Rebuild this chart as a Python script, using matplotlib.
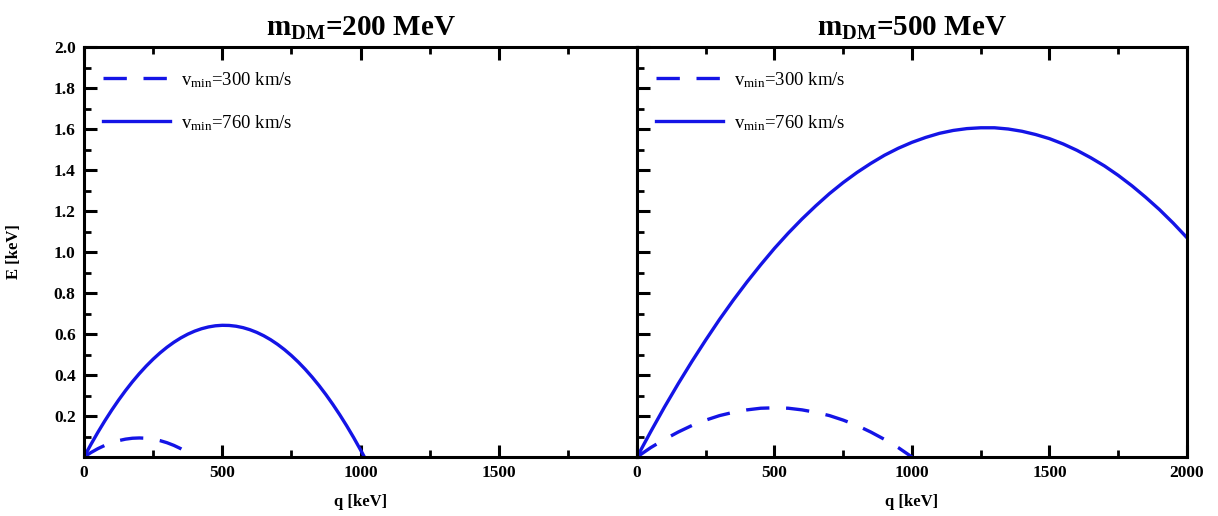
import matplotlib
matplotlib.use("Agg")
import matplotlib.pyplot as plt
from matplotlib.ticker import MultipleLocator, FixedLocator

plt.rcParams['font.family'] = ['Liberation Serif', 'DejaVu Serif']
plt.rcParams['mathtext.fontset'] = 'custom'
plt.rcParams['mathtext.rm'] = 'Liberation Serif'
plt.rcParams['mathtext.it'] = 'Liberation Serif:italic'
plt.rcParams['mathtext.bf'] = 'Liberation Serif:bold'

# ---- data ----
titles = ["m$_{\\mathbf{DM}}$=200 MeV", "m$_{\\mathbf{DM}}$=500 MeV"]
labels = ["v$_{\\rm min}$=300 km/s", "v$_{\\rm min}$=760 km/s"]

# m_DM = 200 MeV
q200_slow = [0, 25, 50, 75, 100, 125, 150, 175, 200, 225, 250, 275, 300,
             325, 350, 375, 400]
E200_slow = [0, 0.0218, 0.0407, 0.0567, 0.0698, 0.0799, 0.0872, 0.0916,
             0.093, 0.0916, 0.0872, 0.0799, 0.0698, 0.0567, 0.0407, 0.0218,
             0.0]
q200_fast = [0, 25, 50, 75, 100, 125, 150, 175, 200, 225, 250, 275, 300,
             325, 350, 375, 400, 425, 450, 475, 500, 525, 550, 575, 600,
             625, 650, 675, 700, 725, 750, 775, 800, 825, 850, 875, 900,
             925, 950, 975, 1000, 1014]
E200_fast = [0, 0.0618, 0.1205, 0.1761, 0.2285, 0.2778, 0.3240, 0.3671,
             0.4070, 0.4438, 0.4775, 0.5081, 0.5355, 0.5598, 0.5810, 0.5991,
             0.6140, 0.6258, 0.6345, 0.6401, 0.6425, 0.6418, 0.6380, 0.6311,
             0.6210, 0.6078, 0.5915, 0.5721, 0.5495, 0.5238, 0.4950, 0.4631,
             0.4280, 0.3898, 0.3485, 0.3041, 0.2565, 0.2058, 0.1520, 0.0951,
             0.0350, 0.0]

# m_DM = 500 MeV
q500_slow = [0, 50, 100, 150, 200, 250, 300, 350, 400, 450, 500, 550, 600,
             650, 700, 750, 800, 850, 900, 950, 1000]
E500_slow = [0, 0.046, 0.086, 0.122, 0.154, 0.18, 0.202, 0.218, 0.23, 0.238,
             0.24, 0.238, 0.23, 0.218, 0.202, 0.18, 0.154, 0.122, 0.086,
             0.046, 0.0]
q500_fast = [0, 50, 100, 150, 200, 250, 300, 350, 400, 450, 500, 550, 600,
             650, 700, 750, 800, 850, 900, 950, 1000, 1050, 1100, 1150,
             1200, 1250, 1300, 1350, 1400, 1450, 1500, 1550, 1600, 1650,
             1700, 1750, 1800, 1850, 1900, 1950, 2000]
E500_fast = [0, 0.124, 0.244, 0.358, 0.467, 0.571, 0.671, 0.765, 0.854,
             0.938, 1.018, 1.092, 1.161, 1.225, 1.285, 1.339, 1.388, 1.432,
             1.472, 1.506, 1.535, 1.559, 1.579, 1.593, 1.602, 1.606, 1.606,
             1.600, 1.589, 1.573, 1.553, 1.527, 1.496, 1.460, 1.420, 1.374,
             1.323, 1.267, 1.207, 1.141, 1.07]

xticks_left = [0, 500, 1000, 1500]
xticks_right = [0, 500, 1000, 1500, 2000]
yticks = [0.2, 0.4, 0.6, 0.8, 1.0, 1.2, 1.4, 1.6, 1.8, 2.0]

color = '#1414e6'

fig = plt.figure(figsize=(12.18, 5.16), dpi=100)
axL = fig.add_axes([0.069, 0.1143, 0.454, 0.7946])
axR = fig.add_axes([0.523, 0.1143, 0.4515, 0.7946])

datasets = [
    (axL, q200_slow, E200_slow, q200_fast, E200_fast, xticks_left, titles[0]),
    (axR, q500_slow, E500_slow, q500_fast, E500_fast, xticks_right, titles[1]),
]

for i, (ax, qs, Es, qf, Ef, xt, title) in enumerate(datasets):
    ax.plot(qs, Es, color=color, lw=2.4, ls=(0, (7, 5)), label=labels[0])
    ax.plot(qf, Ef, color=color, lw=2.4, label=labels[1])
    ax.set_xlim(0, 2000)
    ax.set_ylim(0, 2.0)
    for s in ax.spines.values():
        s.set_linewidth(2.2)
    ax.xaxis.set_major_locator(FixedLocator(xt))
    ax.xaxis.set_minor_locator(MultipleLocator(250))
    ax.yaxis.set_major_locator(FixedLocator(yticks))
    ax.yaxis.set_minor_locator(MultipleLocator(0.1))
    ax.tick_params(which='major', direction='in', length=9, width=2.2,
                   top=True, right=False, labelsize=12.5, pad=6)
    ax.tick_params(which='minor', direction='in', length=5, width=2.0,
                   top=True, right=False)
    if i == 0:
        ax.set_yticklabels([f"{v:.1f}" for v in yticks], fontweight='bold')
        ax.set_ylabel("E [keV]", fontsize=12, fontweight='bold')
        ax.yaxis.set_label_coords(-0.112, 0.5)
    else:
        ax.set_yticklabels([])
    ax.set_xticklabels([str(v) for v in xt], fontweight='bold')
    ax.set_xlabel("q [keV]", fontsize=12, fontweight='bold', labelpad=9)
    ax.set_title(title, fontsize=21, fontweight='bold', pad=8)
    ax.legend(loc='upper left', bbox_to_anchor=(0.0, 0.99), frameon=False,
              fontsize=13.5, handlelength=3.6, labelspacing=1.25,
              handletextpad=0.55, borderaxespad=0.6)

fig.savefig("out.png", dpi=100)
